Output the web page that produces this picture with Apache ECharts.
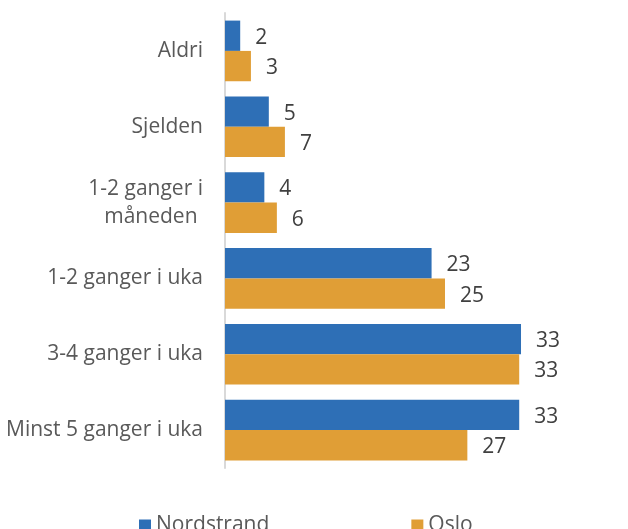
<!DOCTYPE html>
<html>
<head>
<meta charset="utf-8">
<script src="https://cdn.jsdelivr.net/npm/echarts@6/dist/echarts.min.js"></script>
<style>
  html, body { margin: 0; padding: 0; background: #fff; }
  #chart { width: 628px; height: 529px; }
</style>
</head>
<body>
<div id="chart"></div>
<script>
// kategorier, ovenfra og ned
const categories = ['Aldri', 'Sjelden', '1-2 ganger i\nmåneden ', '1-2 ganger i uka', '3-4 ganger i uka', 'Minst 5 ganger i uka']
// verdier lest av bildet (etikettene viser avrundet verdi)
const nordstrand = [1.7, 4.9, 4.4, 23.1, 33.1, 32.9]
const oslo = [2.9, 6.7, 5.8, 24.6, 32.9, 27.1]
const seriesNames = ['Nordstrand', 'Oslo']
const colors = ['#2E6FB6', '#E09E36']

const chart = echarts.init(document.getElementById('chart'), null, { renderer: 'canvas' })

function barLabel() {
  return {
    show: true,
    position: 'right',
    distance: 15,
    offset: [0, 2],
    color: '#404040',
    fontSize: 21,
    fontFamily: 'Open Sans',
    formatter: p => Math.round(p.value)
  }
}

const option = {
  animation: false,
  textStyle: { fontFamily: 'Open Sans' },
  grid: { left: 225, top: 13, width: 313, height: 455, containLabel: false },
  legend: {
    data: seriesNames,
    left: 134,
    top: 510,
    itemWidth: 12,
    itemHeight: 12,
    itemGap: 142,
    icon: 'rect',
    textStyle: { fontSize: 21, color: '#595959', fontFamily: 'Open Sans' }
  },
  xAxis: {
    type: 'value',
    min: 0,
    max: 35,
    show: false
  },
  yAxis: {
    type: 'category',
    data: categories,
    inverse: true,
    axisTick: { show: false },
    axisLine: { show: true, lineStyle: { color: '#d9d9d9', width: 2 } },
    axisLabel: {
      margin: 22,
      fontSize: 21,
      lineHeight: 28,
      padding: [4, 0, 0, 0],
      color: '#595959',
      fontFamily: 'Open Sans'
    }
  },
  series: [
    {
      name: seriesNames[0],
      type: 'bar',
      data: nordstrand,
      barCategoryGap: '20%',
      barGap: '0%',
      itemStyle: { color: colors[0] },
      label: barLabel()
    },
    {
      name: seriesNames[1],
      type: 'bar',
      data: oslo,
      barCategoryGap: '20%',
      barGap: '0%',
      itemStyle: { color: colors[1] },
      label: barLabel()
    }
  ]
}

chart.setOption(option)
</script>
</body>
</html>
